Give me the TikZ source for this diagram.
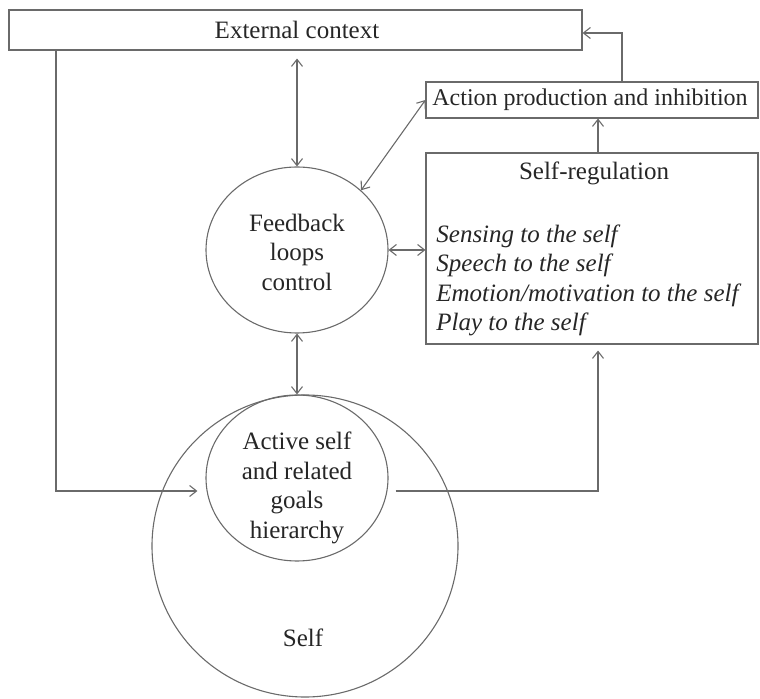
\documentclass[tikz,border=0pt]{standalone}
\usepackage{fontspec}
\setmainfont{Liberation Serif}
\usetikzlibrary{arrows.meta,shapes.geometric,calc}
\definecolor{linegray}{HTML}{6A6A6A}
\definecolor{textgray}{HTML}{262626}
\begin{document}
\begin{tikzpicture}[x=0.5pt,y=-0.5pt,
  line/.style={draw=linegray, line width=0.55pt},
  tip/.tip={Straight Barb[length=3.5pt,width=5.5pt]},
  arr/.style={line, -tip},
  darr/.style={line, tip-tip},
  box/.style={line, rectangle, inner sep=0pt},
  oval/.style={line, ellipse, inner sep=0pt},
  txt/.style={text=textgray, font=\fontsize{12.5}{14.75}\selectfont, inner sep=0pt, align=center},
]
\useasboundingbox (0,0) rectangle (760,699);

% boxes
\node[box, minimum width=286.5pt, minimum height=20pt] (ext) at (295.5,30) {};
\node[box, minimum width=166pt, minimum height=18pt] (act) at (592,100) {};
\node[box, minimum width=166pt, minimum height=95.5pt] (sr) at (592,248.5) {};

% ovals
\node[oval, minimum width=153pt, minimum height=151pt] (self) at (305,546) {};
\node[oval, minimum width=91pt, minimum height=83pt] (fb) at (297,250) {};
\node[oval, minimum width=91pt, minimum height=83pt] (inner) at (297,478) {};

% labels
\node[txt] (extT) at (297,30) {External context};
\node[txt, font=\fontsize{12}{14.75}\selectfont] (actT) at (590,100) {Action production and inhibition};
\node[txt] (srT) at (594,173) {Self-regulation};
\node[txt, align=left, anchor=west, font=\fontsize{12.5}{14.75}\selectfont\itshape] (srL) at (436,280.5)
  {Sensing to the self\\Speech to the self\\Emotion/motivation to the self\\Play to the self};
\node[txt] (fbT) at (297,252) {Feedback\\loops\\control};
\node[txt] (innerT) at (297,488) {Active self\\and related\\goals\\hierarchy};
\node[txt] (selfT) at (303,638) {Self};

% connectors
\coordinate (c1) at (56,491);
\coordinate (c2) at (598,491);
\coordinate (c3) at (622,33);
\draw[arr, shorten >=4pt] (ext.south -| c1) -- (c1) -- (inner.west |- c1);
\draw[darr, shorten <=4pt] (ext.south -| fb.north) -- (fb.north);
\draw[darr] (act.west) -- (fb.43);
\draw[darr] (fb.east) -- (fb.east -| sr.west);
\draw[darr] (fb.south) -- (inner.north);
\draw[arr, shorten >=3pt] ([xshift=3.5pt]inner.east |- c2) -- (c2) -- (c2 |- sr.south);
\draw[arr] (sr.north -| c2) -- (c2 |- act.south);
\draw[arr] (act.north -| c3) -- (c3) -- (c3 -| ext.east);
\end{tikzpicture}
\end{document}
